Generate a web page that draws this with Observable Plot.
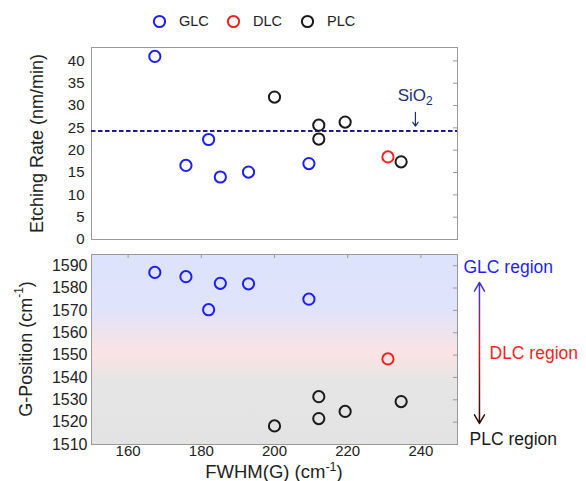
<!DOCTYPE html>
<html><head><meta charset="utf-8">
<script src="https://cdn.jsdelivr.net/npm/d3@7"></script>
<script src="https://cdn.jsdelivr.net/npm/@observablehq/plot@0.6"></script>
<style>
body{margin:0;background:#fff;font-family:"Liberation Sans",Arial,sans-serif;}
#wrap{position:relative;width:586px;height:481px;overflow:hidden;background:#fff}
.abs{position:absolute;left:0}
.leg{position:absolute;top:13px;display:flex;align-items:center;font-size:14.5px;color:#222}
</style></head><body><div id="wrap"></div>
<script>
// ---- data ----
const categories = ["GLC", "DLC", "PLC"];
const categoryColors = ["#1f1ff5", "#f51f1f", "#1a1a1a"];

const glcFwhm = [167.3, 175.8, 182.0, 185.2, 192.9, 209.4];
const glcEtch = [41.0, 16.6, 22.4, 14.0, 15.1, 17.0];
const glcGpos = [1587.0, 1585.1, 1570.3, 1582.1, 1581.9, 1575.0];

const dlcFwhm = [231.0];
const dlcEtch = [18.5];
const dlcGpos = [1548.3];

const plcFwhm = [200.0, 212.1, 212.1, 219.3, 234.6];
const plcEtch = [31.9, 25.6, 22.5, 26.3, 17.4];
const plcGpos = [1518.3, 1521.6, 1531.4, 1524.8, 1529.2];

const sio2Rate = 24.3;

const fwhmTicks = [160, 180, 200, 220, 240];
const etchTicks = [0, 5, 10, 15, 20, 25, 30, 35, 40];
const gposTicks = [1510, 1520, 1530, 1540, 1550, 1560, 1570, 1580, 1590];

const regionLabels = ["GLC region", "DLC region", "PLC region"];
const regionGpos = [1589.3, 1550.7, 1512.2];

// ---- build table ----
const rows = [];
[[glcFwhm, glcEtch, glcGpos], [dlcFwhm, dlcEtch, dlcGpos], [plcFwhm, plcEtch, plcGpos]].forEach(([f, e, g], i) => {
  f.forEach((v, j) => rows.push({cat: categories[i], fwhm: v, etch: e[j], gpos: g[j]}));
});
const colorOf = Object.fromEntries(categories.map((c, i) => [c, categoryColors[i]]));

const wrap = document.getElementById("wrap");
const FONT = "'Liberation Sans', Arial, sans-serif";
const W = 586, ML = 91, MR = 129;
const xDomain = [150, 250];
const intFmt = d3.format("d");

// ---- legend ----
categories.forEach((c, i) => {
  const d = document.createElement("div");
  d.className = "leg";
  d.style.left = (152 + i * 74) + "px";
  d.innerHTML = `<svg width="15" height="15" style="margin-right:12px"><circle cx="7.5" cy="7.5" r="5.6" fill="none" stroke="${colorOf[c]}" stroke-width="2"/></svg><span>${c}</span>`;
  wrap.appendChild(d);
});

// ---- top panel ----
const topH = 205, topMT = 7, topMB = 6;
const topPlot = Plot.plot({
  width: W, height: topH,
  marginLeft: ML, marginRight: MR, marginTop: topMT, marginBottom: topMB,
  style: {fontFamily: FONT, fontSize: "15px", color: "#222", background: "transparent", overflow: "visible"},
  x: {domain: xDomain, axis: null},
  y: {domain: [0, 43], axis: null},
  color: {domain: categories, range: categoryColors},
  marks: [
    Plot.frame({stroke: "#999", strokeWidth: 1}),
    Plot.tickY(etchTicks.slice(1), {y: d => d, insetLeft: W - ML - MR - 4, stroke: "#999"}),
    Plot.axisY(etchTicks, {anchor: "left", tickSize: 0, tickPadding: 7, label: null, fontSize: 15, tickFormat: intFmt}),
    Plot.text(["Etching Rate (nm/min)"], {frameAnchor: "left", dx: -54, rotate: -90, textAnchor: "middle", fontSize: 18, fill: "#222"}),
    Plot.ruleY([sio2Rate], {stroke: "#1c1c8a", strokeWidth: 2, strokeDasharray: "4.5,2.5"}),
    Plot.arrow([0], {x1: () => 238.5, x2: () => 238.5, y1: () => 28.5, y2: () => 25.4, stroke: "#1f2f6f", strokeWidth: 1.2, headLength: 6, headAngle: 70}),
    Plot.dot(rows, {x: "fwhm", y: "etch", stroke: "cat", r: 5.6, strokeWidth: 2, fill: "none"})
  ]
});
topPlot.classList.add("abs");
topPlot.style.top = "40px";
wrap.appendChild(topPlot);
{
  const sx = topPlot.scale("x"), sy = topPlot.scale("y");
  const t = d3.select(topPlot).append("text")
    .attr("x", sx.apply(238.6)).attr("y", sy.apply(30.8))
    .attr("text-anchor", "middle").attr("fill", "#1f2f6f")
    .attr("font-size", 17).attr("font-family", FONT);
  t.append("tspan").text("SiO");
  t.append("tspan").attr("font-size", 12).attr("dy", 4).text("2");
}

// ---- bottom panel ----
const botH = 236, botMT = 9, botMB = 37;
const botPlot = Plot.plot({
  width: W, height: botH,
  marginLeft: ML, marginRight: MR, marginTop: botMT, marginBottom: botMB,
  style: {fontFamily: FONT, fontSize: "15px", color: "#222", background: "transparent", overflow: "visible"},
  x: {domain: xDomain, axis: null},
  y: {domain: [1510, 1595], axis: null},
  color: {domain: categories, range: categoryColors},
  marks: [
    Plot.frame({stroke: "#999", strokeWidth: 1, fill: "url(#bgGrad)"}),
    Plot.tickY(gposTicks, {y: d => d, insetLeft: W - ML - MR - 4, stroke: "#999"}),
    Plot.tickX(fwhmTicks, {x: d => d, insetBottom: botH - botMT - botMB - 4, stroke: "#999"}),
    Plot.axisY(gposTicks, {anchor: "left", tickSize: 0, tickPadding: 4, label: null, fontSize: 16, tickFormat: intFmt}),
    Plot.axisX(fwhmTicks, {anchor: "bottom", tickSize: 0, tickPadding: 1, label: null, fontSize: 15, tickFormat: intFmt}),
    Plot.dot(rows, {x: "fwhm", y: "gpos", stroke: "cat", r: 5.6, strokeWidth: 2, fill: "none"}),
    Plot.arrow([1582.5, 1519.4], {x1: () => 256.0, x2: () => 256.0, y1: () => 1551, y2: d => d,
      stroke: "url(#arrowGrad)", strokeWidth: 1.5, headLength: 10, headAngle: 60}),
    Plot.text(regionLabels, {x: () => 250, y: (d, i) => regionGpos[i], text: d => d,
      textAnchor: "start", fontSize: 17.5,
      fill: (d, i) => categoryColors[i]})
  ]
});
botPlot.classList.add("abs");
botPlot.style.top = "245px";
wrap.appendChild(botPlot);
{
  const svg = d3.select(botPlot);
  const defs = svg.insert("defs", ":first-child");
  const g = defs.append("linearGradient").attr("id", "bgGrad")
    .attr("x1", 0).attr("y1", 0).attr("x2", 0).attr("y2", 1);
  [[0, "#dde3fc"], [0.28, "#dfe3fb"], [0.52, "#fbe3e3"], [0.68, "#e5e5e5"], [1, "#e3e3e3"]]
    .forEach(([o, c]) => g.append("stop").attr("offset", o).attr("stop-color", c));
  const sy = botPlot.scale("y");
  const a = defs.append("linearGradient").attr("id", "arrowGrad").attr("gradientUnits", "userSpaceOnUse")
    .attr("x1", 0).attr("x2", 0).attr("y1", sy.apply(1582.5)).attr("y2", sy.apply(1519.4));
  [[0, "#3535e0"], [0.48, "#c81a1a"], [1, "#2a0808"]]
    .forEach(([o, c]) => a.append("stop").attr("offset", o).attr("stop-color", c));
  // shift region labels horizontally
  const offs = [6, 32, 12];
  svg.selectAll("text").filter(function () { return regionLabels.includes(this.textContent); })
    .each(function () { const i = regionLabels.indexOf(this.textContent); d3.select(this).attr("dx", offs[i]); });
  // y label with superscript
  const yl = svg.append("text")
    .attr("transform", `translate(27,${(botMT + botH - botMB) / 2}) rotate(-90)`)
    .attr("text-anchor", "middle").attr("dominant-baseline", "middle")
    .attr("font-size", 18).attr("font-family", FONT).attr("fill", "#222");
  yl.append("tspan").text("G-Position (cm");
  yl.append("tspan").attr("font-size", 12).attr("dy", -7).text("-1");
  yl.append("tspan").attr("dy", 7).text(")");
  // x label with superscript
  const xl = svg.append("text")
    .attr("x", ML + (W - ML - MR) / 2).attr("y", 232.5)
    .attr("text-anchor", "middle")
    .attr("font-size", 18.5).attr("font-family", FONT).attr("fill", "#222");
  xl.append("tspan").text("FWHM(G) (cm");
  xl.append("tspan").attr("font-size", 12.5).attr("dy", -7).text("-1");
  xl.append("tspan").attr("dy", 7).text(")");
}
</script></body></html>
